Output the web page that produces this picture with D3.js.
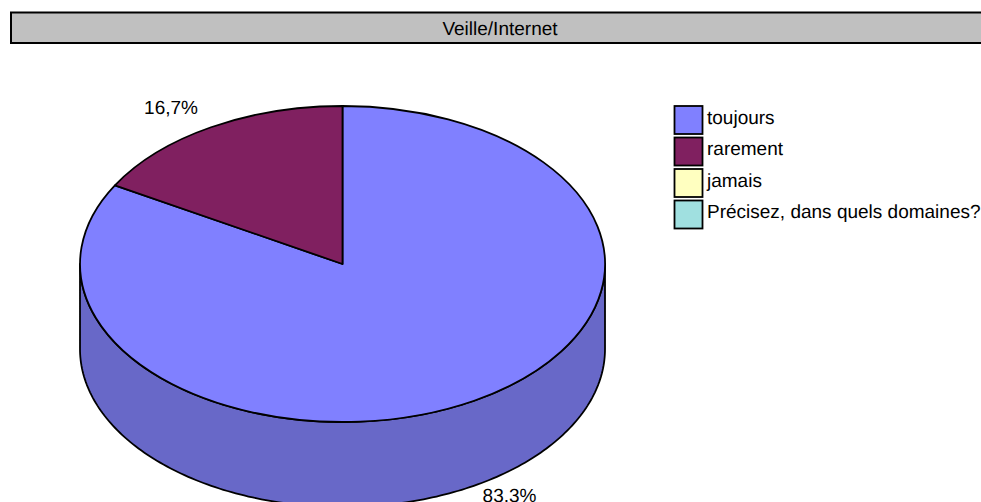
<!DOCTYPE html>
<html><head><meta charset="utf-8">
<script src="https://cdnjs.cloudflare.com/ajax/libs/d3/7.8.5/d3.min.js"></script>
<style>html,body{margin:0;padding:0;background:#fff;overflow:hidden}svg{display:block}text{font-family:"Liberation Sans",Arial,sans-serif;font-size:19px;fill:#000;text-rendering:geometricPrecision}</style>
</head><body><svg id="c" width="981" height="502"></svg>
<script>
const title = "Veille/Internet";
const categories = ["toujours","rarement","jamais","Précisez, dans quels domaines?"];
const values = [83.3,16.7,0,0];
const colors = ["#8080ff","#802060","#ffffc0","#a0e0e0"];
const valueLabels = ["83,3%","16,7%"];
const wallColor = "#6868c8";

const svg = d3.select("#c");
const cx=342.5, cy=264, rx=262.5, ry=158, depth=85;

svg.append("rect").attr("x",11).attr("y",12.5).attr("width",1000).attr("height",30.5)
  .attr("fill","#c0c0c0").attr("stroke","#000").attr("stroke-width",2);
svg.append("text").attr("x",500).attr("y",34.5).attr("text-anchor","middle").text(title);

const arcs = d3.pie().sort(null).value(d=>d)(values);
const sx = d3.scaleLinear().domain([-1,1]).range([cx-rx,cx+rx]);
const sy = d3.scaleLinear().domain([-1,1]).range([cy-ry,cy+ry]);
const arcGen = d3.arc().innerRadius(0).outerRadius(1);

// side wall: lower half of the ellipse, extruded
const lineGen = d3.line();
const front = d3.range(0,181).map(d=>{const a=d*Math.PI/180;return [sx(Math.cos(a)),sy(Math.sin(a))];});
const wall = front.map(p=>[p[0],p[1]+depth]).concat(front.slice().reverse());
svg.append("path").attr("d",lineGen(wall)+"Z").attr("fill",wallColor).attr("stroke","#000").attr("stroke-width",1.8).attr("stroke-linejoin","round");

// top face
const g = svg.append("g").attr("transform",`translate(${cx},${cy}) scale(${rx},${ry})`);
g.selectAll("path").data(arcs.filter(d=>d.value>0)).join("path")
  .attr("d",arcGen)
  .attr("fill",d=>colors[d.index])
  .attr("stroke","#000").attr("stroke-width",1.8)
  .attr("vector-effect","non-scaling-stroke").attr("stroke-linejoin","round");

// value labels
svg.append("text").attr("x",509.5).attr("y",501.5).attr("text-anchor","middle").text(valueLabels[0]);
svg.append("text").attr("x",171).attr("y",113.5).attr("text-anchor","middle").text(valueLabels[1]);

// legend
const ly = d3.scalePoint().domain(categories).range([106,200.5]);
const lg = svg.append("g").selectAll("g").data(categories).join("g").attr("transform",d=>`translate(674.5,${ly(d)})`);
lg.append("rect").attr("width",28).attr("height",28).attr("fill",(d,i)=>colors[i]).attr("stroke","#000").attr("stroke-width",1.8);
lg.append("text").attr("x",32.5).attr("y",17.5).text(d=>d);
</script></body></html>
